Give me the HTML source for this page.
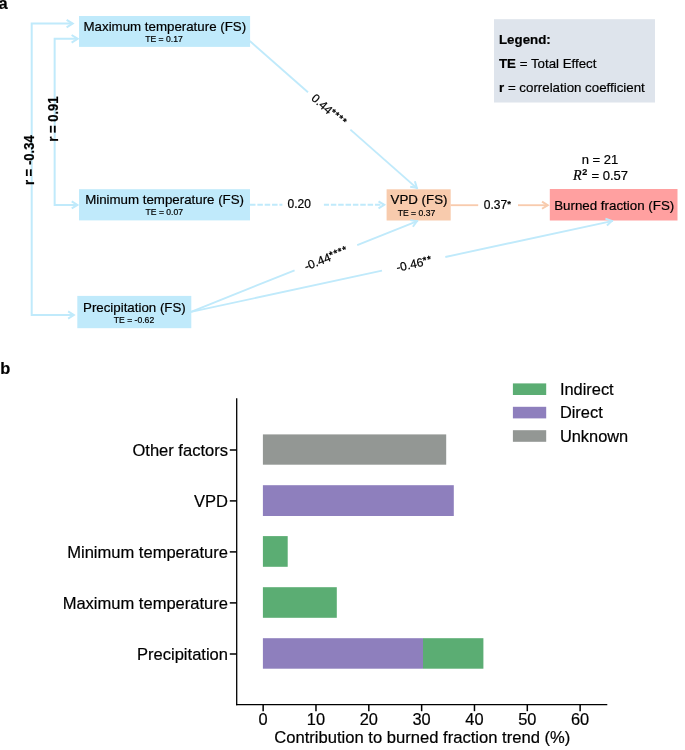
<!DOCTYPE html>
<html><head><meta charset="utf-8"><title>Figure</title>
<style>
html,body{margin:0;padding:0;background:#fff;}
svg{display:block;font-family:"Liberation Sans", Arial, sans-serif;fill:#000;}
svg text{fill:#000;stroke:#000;stroke-width:0.2px;}
</style></head>
<body>
<svg width="685" height="750" viewBox="0 0 685 750">
<rect width="685" height="750" fill="#fff"/>
<text x="-1.4" y="8.5" font-size="16.4" text-anchor="start" font-weight="bold">a</text>
<path d="M72.5 23.6 H31.7 V315.0 H73.5" fill="none" stroke="#C0EAFB" stroke-width="2"/>
<path d="M76.5 38.8 H54.65 V204.9 H76.5" fill="none" stroke="#C0EAFB" stroke-width="2"/>
<path d="M66.61 19.78 L72.71 23.60 L66.61 27.42" fill="none" stroke="#C0EAFB" stroke-width="2" stroke-linejoin="miter"/>
<path d="M71.61 34.98 L77.71 38.80 L71.61 42.62" fill="none" stroke="#C0EAFB" stroke-width="2" stroke-linejoin="miter"/>
<path d="M71.73 201.35 L77.41 204.90 L71.73 208.45" fill="none" stroke="#C0EAFB" stroke-width="2" stroke-linejoin="miter"/>
<path d="M68.13 311.45 L73.81 315.00 L68.13 318.55" fill="none" stroke="#C0EAFB" stroke-width="2" stroke-linejoin="miter"/>
<rect x="79" y="16" width="171.10" height="30.90" fill="#C0EAFB"/>
<rect x="79" y="189.2" width="171.00" height="31.20" fill="#C0EAFB"/>
<rect x="77.3" y="295.9" width="114.00" height="32.30" fill="#C0EAFB"/>
<rect x="386.6" y="189.3" width="64.10" height="31.20" fill="#F8CBAD"/>
<rect x="549.8" y="189" width="127.70" height="31.50" fill="#FFA0A0"/>
<rect x="494" y="19.2" width="161.00" height="83.30" fill="#DEE4EC"/>
<text x="164.8" y="31.3" font-size="13.3" text-anchor="middle" font-weight="normal">Maximum temperature (FS)</text>
<text x="164" y="42" font-size="8.6" text-anchor="middle" font-weight="normal">TE = 0.17</text>
<text x="164.6" y="204.3" font-size="13.3" text-anchor="middle" font-weight="normal">Minimum temperature (FS)</text>
<text x="164.3" y="215.4" font-size="8.6" text-anchor="middle" font-weight="normal">TE = 0.07</text>
<text x="134.4" y="311.6" font-size="13.3" text-anchor="middle" font-weight="normal">Precipitation (FS)</text>
<text x="134" y="323" font-size="8.6" text-anchor="middle" font-weight="normal">TE = -0.62</text>
<text x="419" y="203.9" font-size="13.3" text-anchor="middle" font-weight="normal">VPD (FS)</text>
<text x="416.5" y="215.5" font-size="8.6" text-anchor="middle" font-weight="normal">TE = 0.37</text>
<text x="614.2" y="210.1" font-size="13.35" text-anchor="middle" font-weight="normal">Burned fraction (FS)</text>
<text x="499" y="44.1" font-size="13.3" text-anchor="start" font-weight="bold">Legend:</text>
<text x="499" y="68.4" font-size="13.3"><tspan font-weight="bold">TE</tspan> = Total Effect</text>
<text x="499" y="92.2" font-size="13.3"><tspan font-weight="bold">r</tspan> = correlation coefficient</text>
<text x="600" y="163.7" font-size="13" text-anchor="middle" font-weight="normal">n = 21</text>
<text x="573.1" y="179.8" font-size="13"><tspan font-family="'Liberation Serif', 'DejaVu Serif', serif" font-style="italic" font-size="14.2">R</tspan><tspan font-weight="bold" font-size="9" dy="-4.7" dx="0.5">2</tspan></text>
<text x="628.1" y="179.8" font-size="13" text-anchor="end" font-weight="normal">= 0.57</text>
<line x1="249.80" y1="41.00" x2="308.00" y2="92.30" stroke="#C0EAFB" stroke-width="1.85"/><line x1="350.40" y1="129.67" x2="417.60" y2="188.90" stroke="#C0EAFB" stroke-width="1.85"/>
<path d="M414.88 181.33 L416.79 187.75 L410.18 186.64" fill="none" stroke="#C0EAFB" stroke-width="2" stroke-linejoin="miter"/>
<line x1="250.00" y1="204.85" x2="384.30" y2="204.85" stroke="#C0EAFB" stroke-width="2" stroke-dasharray="5.5 1.85"/>
<rect x="282.4" y="200" width="41.4" height="10" fill="#fff"/>
<path d="M378.53 201.30 L384.21 204.85 L378.53 208.40" fill="none" stroke="#C0EAFB" stroke-width="2" stroke-linejoin="miter"/>
<line x1="191.00" y1="311.90" x2="294.60" y2="270.32" stroke="#C0EAFB" stroke-width="1.85"/><line x1="357.20" y1="245.20" x2="418.00" y2="220.80" stroke="#C0EAFB" stroke-width="1.85"/>
<path d="M410.25 220.13 L416.85 221.30 L412.90 226.72" fill="none" stroke="#C0EAFB" stroke-width="2" stroke-linejoin="miter"/>
<line x1="191.00" y1="311.90" x2="382.00" y2="270.67" stroke="#C0EAFB" stroke-width="1.85"/><line x1="445.30" y1="257.00" x2="613.00" y2="220.80" stroke="#C0EAFB" stroke-width="1.85"/>
<path d="M605.45 218.64 L611.76 220.90 L606.96 225.58" fill="none" stroke="#C0EAFB" stroke-width="2" stroke-linejoin="miter"/>
<line x1="450.50" y1="205.20" x2="478.20" y2="205.20" stroke="#F8CBAD" stroke-width="1.85"/>
<line x1="518.00" y1="205.20" x2="548.00" y2="205.20" stroke="#F8CBAD" stroke-width="1.85"/>
<path d="M542.03 201.65 L547.71 205.20 L542.03 208.75" fill="none" stroke="#F8CBAD" stroke-width="2" stroke-linejoin="miter"/>
<text x="299.2" y="208.2" font-size="12" text-anchor="middle" font-weight="normal">0.20</text>
<text x="497.9" y="209.2" font-size="12" text-anchor="middle" font-weight="normal">0.37<tspan font-size="9.6" font-weight="bold" dy="-2.3" dx="0.1" letter-spacing="0.95">*</tspan></text>
<text x="0" y="0" font-size="12" text-anchor="middle" transform="translate(329.5,109.7) rotate(41.5)" dy="4.8">0.44<tspan font-size="9.6" font-weight="bold" dy="-2.3" dx="0.1" letter-spacing="0.95">****</tspan></text>
<text x="0" y="0" font-size="12" text-anchor="middle" transform="translate(326.1,258.3) rotate(-21.5)" dy="4.2">-0.44<tspan font-size="9.6" font-weight="bold" dy="-2.3" dx="0.1" letter-spacing="0.95">****</tspan></text>
<text x="0" y="0" font-size="12" text-anchor="middle" transform="translate(414.3,263.7) rotate(-12.3)" dy="4.2">-0.46<tspan font-size="9.6" font-weight="bold" dy="-2.3" dx="0.1" letter-spacing="0.95">**</tspan></text>
<text font-size="13.3" font-weight="bold" transform="translate(34,185.1) rotate(-90) scale(0.985,1.05)">r = -0.34</text>
<text font-size="13.3" font-weight="bold" transform="translate(58.3,141.8) rotate(-90) scale(0.985,1.05)">r = 0.91</text>
<text x="0.3" y="373.8" font-size="16.4" text-anchor="start" font-weight="bold">b</text>
<rect x="262.9" y="434.4" width="183.30" height="30.30" fill="#939794"/>
<rect x="262.9" y="485.2" width="190.90" height="30.80" fill="#8E7FBD"/>
<rect x="262.9" y="536.1" width="24.80" height="30.70" fill="#5BAD73"/>
<rect x="262.9" y="587.2" width="73.90" height="30.60" fill="#5BAD73"/>
<rect x="262.9" y="638.2" width="160.10" height="30.50" fill="#8E7FBD"/>
<rect x="423.0" y="638.2" width="60.40" height="30.50" fill="#5BAD73"/>
<path d="M236.7 398.3 V705.3" fill="none" stroke="#000" stroke-width="1.3"/>
<path d="M236.05 704.65 H607.3" fill="none" stroke="#000" stroke-width="1.3"/>
<line x1="229.8" y1="450.0" x2="236.7" y2="450.0" stroke="#000" stroke-width="1.5"/>
<text x="228" y="455.8" font-size="16.55" text-anchor="end" font-weight="normal">Other factors</text>
<line x1="229.8" y1="500.9" x2="236.7" y2="500.9" stroke="#000" stroke-width="1.5"/>
<text x="228" y="506.7" font-size="16.55" text-anchor="end" font-weight="normal">VPD</text>
<line x1="229.8" y1="551.9" x2="236.7" y2="551.9" stroke="#000" stroke-width="1.5"/>
<text x="228" y="557.6999999999999" font-size="16.55" text-anchor="end" font-weight="normal">Minimum temperature</text>
<line x1="229.8" y1="602.9" x2="236.7" y2="602.9" stroke="#000" stroke-width="1.5"/>
<text x="228" y="608.6999999999999" font-size="16.55" text-anchor="end" font-weight="normal">Maximum temperature</text>
<line x1="229.8" y1="654.0" x2="236.7" y2="654.0" stroke="#000" stroke-width="1.5"/>
<text x="228" y="659.8" font-size="16.55" text-anchor="end" font-weight="normal">Precipitation</text>
<line x1="263.15000000000003" y1="704.5" x2="263.15000000000003" y2="711.2" stroke="#000" stroke-width="1.5"/>
<text x="263.1" y="725.4" font-size="16.4" text-anchor="middle" font-weight="normal">0</text>
<line x1="315.98" y1="704.5" x2="315.98" y2="711.2" stroke="#000" stroke-width="1.5"/>
<text x="315.93" y="725.4" font-size="16.4" text-anchor="middle" font-weight="normal">10</text>
<line x1="368.81" y1="704.5" x2="368.81" y2="711.2" stroke="#000" stroke-width="1.5"/>
<text x="368.76" y="725.4" font-size="16.4" text-anchor="middle" font-weight="normal">20</text>
<line x1="421.64000000000004" y1="704.5" x2="421.64000000000004" y2="711.2" stroke="#000" stroke-width="1.5"/>
<text x="421.59000000000003" y="725.4" font-size="16.4" text-anchor="middle" font-weight="normal">30</text>
<line x1="474.47" y1="704.5" x2="474.47" y2="711.2" stroke="#000" stroke-width="1.5"/>
<text x="474.42" y="725.4" font-size="16.4" text-anchor="middle" font-weight="normal">40</text>
<line x1="527.3" y1="704.5" x2="527.3" y2="711.2" stroke="#000" stroke-width="1.5"/>
<text x="527.25" y="725.4" font-size="16.4" text-anchor="middle" font-weight="normal">50</text>
<line x1="580.13" y1="704.5" x2="580.13" y2="711.2" stroke="#000" stroke-width="1.5"/>
<text x="580.08" y="725.4" font-size="16.4" text-anchor="middle" font-weight="normal">60</text>
<text x="422.3" y="742.6" font-size="16.6" text-anchor="middle" font-weight="normal">Contribution to burned fraction trend (%)</text>
<rect x="512.9" y="383.4" width="33.3" height="11.6" fill="#5BAD73"/>
<text x="559.9" y="395.0" font-size="16.4" text-anchor="start" font-weight="normal">Indirect</text>
<rect x="512.9" y="406.8" width="33.3" height="11.6" fill="#8E7FBD"/>
<text x="559.9" y="418.40000000000003" font-size="16.4" text-anchor="start" font-weight="normal">Direct</text>
<rect x="512.9" y="430.2" width="33.3" height="11.6" fill="#939794"/>
<text x="559.9" y="441.8" font-size="16.4" text-anchor="start" font-weight="normal">Unknown</text>
</svg>
</body></html>
